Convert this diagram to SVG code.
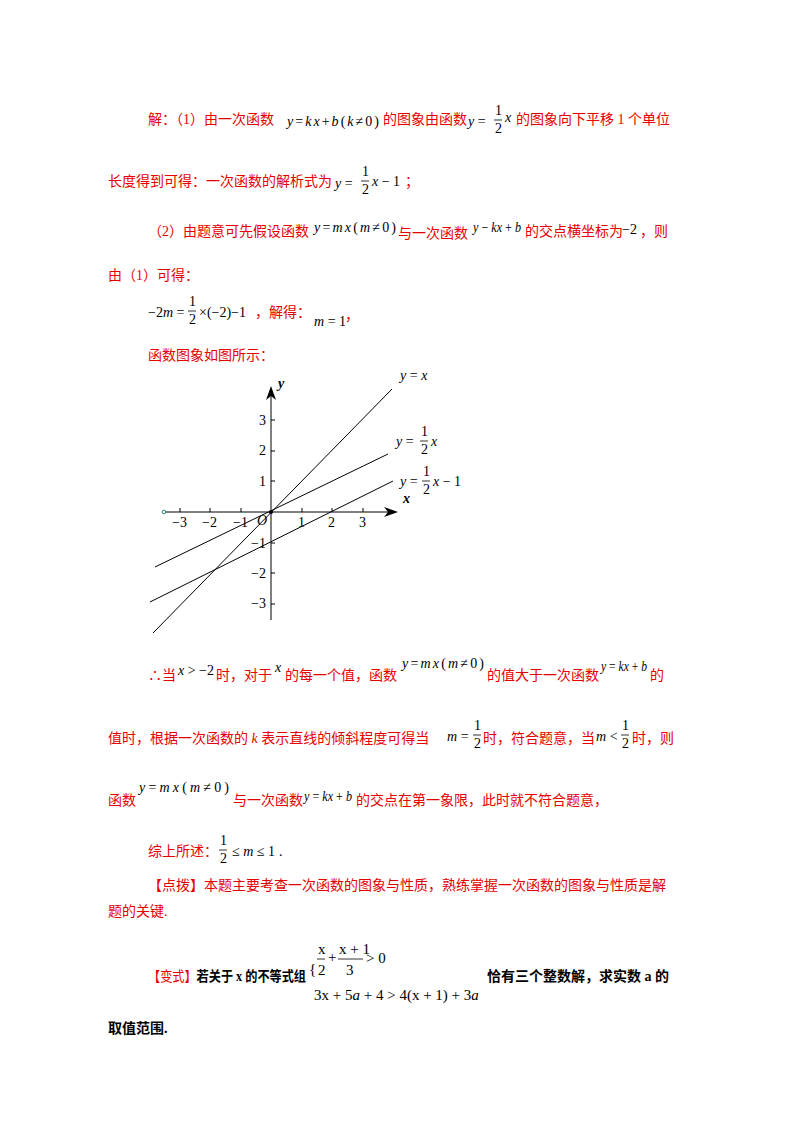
<svg xmlns="http://www.w3.org/2000/svg" width="800" height="1132" viewBox="0 0 800 1132">
<style>
.t{font-family:"Liberation Serif","Noto Sans CJK SC",serif;font-size:14px;fill:#e60000}
.k{font-family:"Liberation Serif","Noto Sans CJK SC",serif;font-size:14px;fill:#000}
.b{font-family:"Liberation Serif","Noto Sans CJK SC",serif;font-size:14px;fill:#000;font-weight:bold}
.m{font-family:"Liberation Serif",serif;font-size:14px;fill:#000;font-style:italic}
.n{font-family:"Liberation Serif",serif;font-size:14px;fill:#000;font-style:normal}
.s{font-family:"Liberation Serif",serif;font-size:15px;fill:#000}
.fl{stroke:#000;stroke-width:0.8}
.ln{stroke:#000;stroke-width:1;fill:none}
</style>
<rect width="800" height="1132" fill="#fff"/>
<g id="text">
<text x="148" y="124" class="t">解：（1）由一次函数</text>
<text x="287" y="126" class="m" textLength="92" lengthAdjust="spacing">y<tspan class="n">=</tspan>kx<tspan class="n">+</tspan>b<tspan class="n">(</tspan>k<tspan class="n">≠0)</tspan></text>
<text x="383" y="124" class="t">的图象由函数</text>
<text x="468" y="126" class="m">y<tspan class="n"> = </tspan></text>
<text x="495" y="115" class="n" font-size="12">1</text><line x1="494" y1="120" x2="502" y2="120" class="fl"/><text x="495" y="133" class="n" font-size="12">2</text>
<text x="505" y="122" class="m">x</text>
<text x="516" y="124" class="t">的图象向下平移 1 个单位</text>

<text x="108" y="186" class="t">长度得到可得：一次函数的解析式为</text>
<text x="335" y="188" class="m">y<tspan class="n"> = </tspan></text>
<text x="362" y="176" class="n" font-size="12">1</text><line x1="361" y1="181" x2="369" y2="181" class="fl"/><text x="362" y="194" class="n" font-size="12">2</text>
<text x="372" y="186" class="m">x<tspan class="n"> − 1</tspan></text>
<text x="405" y="186" class="t">；</text>

<text x="148" y="236" class="t">（2）由题意可先假设函数</text>
<text x="314" y="232" class="m" textLength="82" lengthAdjust="spacing">y<tspan class="n">=</tspan>mx<tspan class="n">(</tspan>m<tspan class="n">≠0)</tspan></text>
<text x="398" y="238" class="t">与一次函数</text>
<text x="473" y="232" class="m" font-size="10" textLength="48" lengthAdjust="spacingAndGlyphs">y<tspan class="n" font-size="10"> − </tspan>kx<tspan class="n" font-size="10"> + </tspan>b</text>
<text x="525" y="236" class="t">的交点横坐标为</text>
<text x="622" y="234" class="n">−2</text>
<text x="640" y="236" class="t">，则</text>

<text x="108" y="280" class="t">由（1）可得：</text>

<text x="148" y="317" class="n">−2<tspan class="m">m</tspan> = </text>
<text x="189" y="306" class="n" font-size="12">1</text><line x1="188" y1="311" x2="196" y2="311" class="fl"/><text x="189" y="324" class="n" font-size="12">2</text>
<text x="199" y="317" class="n">×(−2)−1</text>
<text x="255" y="317" class="t">，解得：</text>
<text x="314" y="326" class="m">m<tspan class="n"> = 1</tspan></text>
<text x="345" y="320" class="t">，</text>

<text x="148" y="360" class="t">函数图象如图所示：</text>

<text x="148" y="680" class="t">∴当</text>
<text x="178" y="675" class="m">x<tspan class="n"> &gt; −2</tspan></text>
<text x="216" y="680" class="t">时，对于</text>
<text x="275" y="672" class="m">x</text>
<text x="285" y="680" class="t">的每一个值，函数</text>
<text x="402" y="668" class="m" textLength="82" lengthAdjust="spacing">y<tspan class="n">=</tspan>mx<tspan class="n">(</tspan>m<tspan class="n">≠0)</tspan></text>
<text x="487" y="680" class="t">的值大于一次函数</text>
<text x="601" y="671" class="m" font-size="10" textLength="46" lengthAdjust="spacingAndGlyphs">y<tspan class="n" font-size="10"> = </tspan>kx<tspan class="n" font-size="10"> + </tspan>b</text>
<text x="650" y="680" class="t">的</text>

<text x="108" y="743" class="t">值时，根据一次函数的 <tspan font-style="italic">k</tspan> 表示直线的倾斜程度可得当</text>
<text x="447" y="741" class="m">m<tspan class="n"> = </tspan></text>
<text x="474" y="730" class="n" font-size="12">1</text><line x1="473" y1="735" x2="481" y2="735" class="fl"/><text x="474" y="748" class="n" font-size="12">2</text>
<text x="483" y="743" class="t">时，符合题意，当</text>
<text x="596" y="741" class="m">m<tspan class="n"> &lt; </tspan></text>
<text x="622" y="730" class="n" font-size="12">1</text><line x1="621" y1="735" x2="629" y2="735" class="fl"/><text x="622" y="748" class="n" font-size="12">2</text>
<text x="632" y="743" class="t">时，则</text>

<text x="108" y="805" class="t">函数</text>
<text x="139" y="792" class="m" textLength="90" lengthAdjust="spacing">y<tspan class="n">=</tspan>mx<tspan class="n">(</tspan>m<tspan class="n">≠0)</tspan></text>
<text x="233" y="805" class="t">与一次函数</text>
<text x="304" y="801" class="m" font-size="10" textLength="48" lengthAdjust="spacingAndGlyphs">y<tspan class="n" font-size="10"> = </tspan>kx<tspan class="n" font-size="10"> + </tspan>b</text>
<text x="356" y="805" class="t">的交点在第一象限，此时就不符合题意，</text>

<text x="148" y="856" class="t">综上所述：</text>
<text x="220" y="845" class="n" font-size="12">1</text><line x1="219" y1="850" x2="227" y2="850" class="fl"/><text x="220" y="863" class="n" font-size="12">2</text>
<text x="232" y="856" class="n">≤ <tspan class="m">m</tspan> ≤ 1</text>
<text x="279" y="856" class="k">.</text>

<text x="148" y="890" class="t">【点拨】本题主要考查一次函数的图象与性质，熟练掌握一次函数的图象与性质是解</text>
<text x="108" y="916" class="t">题的关键.</text>

<text x="148" y="981" class="t" textLength="158" lengthAdjust="spacingAndGlyphs">【变式】<tspan class="b">若关于 x 的不等式组</tspan></text>
<text x="309" y="974" class="s" font-size="10">{</text>
<text x="318" y="954" class="s">x</text><line x1="317" y1="959" x2="325" y2="959" class="fl"/><text x="318" y="975" class="s">2</text>
<text x="328" y="962" class="s">+</text>
<text x="339" y="954" class="s">x + 1</text><line x1="338" y1="959" x2="363" y2="959" class="fl"/><text x="346" y="975" class="s">3</text>
<text x="366" y="963" class="s">&gt; 0</text>
<text x="314" y="1000" class="s">3x + 5<tspan font-style="italic">a</tspan> + 4 &gt; 4(x + 1) + 3<tspan font-style="italic">a</tspan></text>
<text x="487" y="981" class="b">恰有三个整数解，求实数 a 的</text>
<text x="108" y="1033" class="b">取值范围.</text>
</g>
<g id="graph">
<line x1="164" y1="512" x2="392" y2="512" class="ln"/>
<path d="M398 512 L384 507 L388 512 L384 517 Z"/>
<line x1="271" y1="620" x2="271" y2="392" class="ln"/>
<path d="M271 386 L266 400 L271 396 L276 400 Z"/>
<circle cx="164" cy="512" r="1.8" fill="#fff" stroke="#2a8a7a" stroke-width="1"/>
<circle cx="271" cy="512" r="2" fill="#000"/>
<g class="ln">
<line x1="180" y1="512" x2="180" y2="508"/><line x1="210" y1="512" x2="210" y2="508"/><line x1="241" y1="512" x2="241" y2="508"/>
<line x1="302" y1="512" x2="302" y2="508"/><line x1="332" y1="512" x2="332" y2="508"/><line x1="363" y1="512" x2="363" y2="508"/>
<line x1="271" y1="420" x2="275" y2="420"/><line x1="271" y1="451" x2="275" y2="451"/><line x1="271" y1="481" x2="275" y2="481"/>
<line x1="271" y1="543" x2="275" y2="543"/><line x1="271" y1="573" x2="275" y2="573"/><line x1="271" y1="604" x2="275" y2="604"/>
</g>
<g class="n" font-size="13">
<text x="172" y="527">−3</text><text x="202" y="527">−2</text><text x="233" y="527">−1</text>
<text x="257" y="525" font-style="italic">O</text>
<text x="298" y="527">1</text><text x="328" y="527">2</text><text x="359" y="527">3</text>
<text x="259" y="425">3</text><text x="259" y="455">2</text><text x="259" y="486">1</text>
<text x="251" y="548">−1</text><text x="251" y="578">−2</text><text x="251" y="608">−3</text>
</g>
<text x="278" y="388" class="m" font-size="10" font-weight="bold">y</text>
<text x="403" y="503" class="m" font-size="10" font-weight="bold">x</text>
<g id="connectors" class="ln" stroke-width="0.9">
<line x1="153" y1="633" x2="392" y2="389"/>
<line x1="155" y1="567" x2="388" y2="454"/>
<line x1="150" y1="602" x2="393" y2="481"/>
</g>
<text x="400" y="380" class="m">y<tspan class="n"> = </tspan>x</text>
<text x="396" y="446" class="m">y<tspan class="n"> = </tspan></text>
<text x="421" y="436" class="n" font-size="12">1</text><line x1="420" y1="441" x2="428" y2="441" class="fl"/><text x="421" y="454" class="n" font-size="12">2</text>
<text x="431" y="446" class="m">x</text>
<text x="400" y="486" class="m">y<tspan class="n"> = </tspan></text>
<text x="423" y="476" class="n" font-size="12">1</text><line x1="422" y1="481" x2="430" y2="481" class="fl"/><text x="423" y="494" class="n" font-size="12">2</text>
<text x="433" y="486" class="m">x<tspan class="n"> − 1</tspan></text>
</g>
</svg>
